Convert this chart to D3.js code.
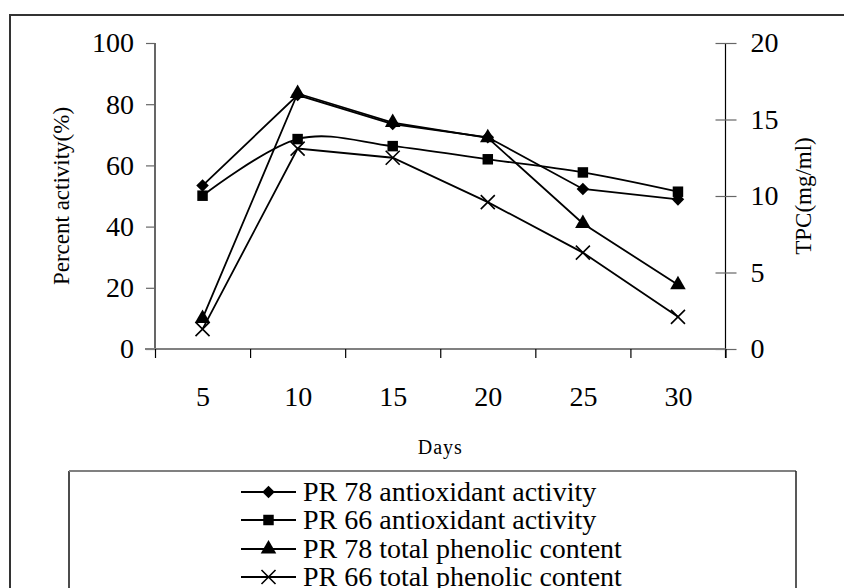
<!DOCTYPE html>
<html><head><meta charset="utf-8">
<script src="https://cdn.jsdelivr.net/npm/d3@7"></script>
<style>
html,body{margin:0;padding:0;background:#fff;}
svg{display:block;}
svg text{font-family:"Liberation Serif","Times New Roman",serif;}
</style></head>
<body><svg id="c" width="844" height="588"></svg>
<script>
const days = ["5","10","15","20","25","30"];
const pr78Antioxidant = [53.4, 83.0, 73.5, 69.2, 52.3, 48.9];
const pr66Antioxidant = [50.1, 68.6, 66.3, 62.0, 57.7, 51.4];
const pr78Phenolic = [2.0, 16.7, 14.8, 13.8, 8.2, 4.2];
const pr66Phenolic = [1.3, 13.1, 12.5, 9.6, 6.3, 2.1];
const leftTicks = [0, 20, 40, 60, 80, 100];
const rightTicks = [0, 5, 10, 15, 20];
const legendLabels = ["PR 78 antioxidant activity","PR 66 antioxidant activity","PR 78 total phenolic content","PR 66 total phenolic content"];

const SERIF = "Liberation Serif, Times New Roman, serif";
const svg = d3.select("#c");
const L = 155, R = 725.5, T = 43, B = 349;
const x = d3.scalePoint().domain(days).range([L, R]).padding(0.5);
const xb = d3.scaleLinear().domain([0, days.length]).range([L, R]);
const yL = d3.scaleLinear().domain([0, 100]).range([B, T]);
const yR = d3.scaleLinear().domain([0, 20]).range([B, T]);

// outer frame
svg.append("path").attr("d", `M10,600 L10,15 L860,15`).attr("fill","none").attr("stroke","#333").attr("stroke-width",2);

// legend box
svg.append("path").attr("d", `M69,600 L69,471`).attr("fill","none").attr("stroke","#111").attr("stroke-width",1.5);
svg.append("path").attr("d", `M69,471 L796,471`).attr("fill","none").attr("stroke","#808080").attr("stroke-width",2);
svg.append("path").attr("d", `M796,471 L796,600`).attr("fill","none").attr("stroke","#222").attr("stroke-width",1.5);

// left axis
const gL = svg.append("g").attr("transform", `translate(${L},0)`)
  .call(d3.axisLeft(yL).tickValues(leftTicks).tickSize(9).tickPadding(12));
gL.attr("font-family", SERIF);
gL.select(".domain").attr("stroke","#000").attr("stroke-width",1.2).attr("d", `M0,${T}V${B}`);
gL.selectAll(".tick line").attr("stroke","#666").attr("stroke-width",1.2);
gL.selectAll(".tick text").attr("font-size",28).attr("fill","#000");

// right axis
const gR = svg.append("g").attr("transform", `translate(${R},0)`)
  .call(d3.axisRight(yR).tickValues(rightTicks).tickSize(11).tickPadding(14));
gR.attr("font-family", SERIF);
gR.select(".domain").attr("stroke","#000").attr("stroke-width",1.2).attr("d", `M0,${T}V${B+9}`);
gR.selectAll(".tick line").attr("stroke","#666").attr("stroke-width",1.2).attr("x1",-10);
gR.selectAll(".tick text").attr("font-size",28).attr("fill","#000");

// x axis ticks at category boundaries
const gX = svg.append("g").attr("transform", `translate(0,${B})`)
  .call(d3.axisBottom(xb).ticks(days.length).tickSize(9).tickFormat(""));
gX.select(".domain").attr("stroke","#808080").attr("stroke-width",2.2).attr("d", `M${L-10},0H${R}`);
gX.selectAll(".tick line").attr("stroke","#000").attr("stroke-width",1.2);
// x labels
const gXL = svg.append("g").attr("transform", `translate(0,${B})`)
  .call(d3.axisBottom(x).tickSize(0).tickPadding(37));
gXL.attr("font-family", SERIF);
gXL.select(".domain").remove();
gXL.selectAll(".tick text").attr("font-size",28).attr("fill","#000");

// axis titles
svg.append("text").attr("transform", `translate(69,${(T+B)/2}) rotate(-90)`).attr("text-anchor","middle")
  .attr("font-size",23).text("Percent activity(%)");
svg.append("text").attr("transform", `translate(811,${(T+B)/2}) rotate(-90)`).attr("text-anchor","middle")
  .attr("font-size",23).text("TPC(mg/ml)");
svg.append("text").attr("x",(L+R)/2).attr("y",454).attr("text-anchor","middle")
  .attr("font-size",20).attr("letter-spacing",1).text("Days");

// series
const series = [
  {vals: pr78Antioxidant, y: yL, curve: d3.curveLinear, m: "diamond"},
  {vals: pr66Antioxidant, y: yL, curve: d3.curveCatmullRom.alpha(0), m: "square"},
  {vals: pr78Phenolic, y: yR, curve: d3.curveLinear, m: "triangle"},
  {vals: pr66Phenolic, y: yR, curve: d3.curveLinear, m: "cross"}
];
const symbolPath = {
  diamond: d3.symbol(d3.symbolDiamond2 || d3.symbolDiamond, 100)(),
  square: d3.symbol(d3.symbolSquare, 110)(),
  triangle: d3.symbol(d3.symbolTriangle, 105)(),
  cross: d3.symbol(d3.symbolX, 130)()
};
function drawMarker(g, m, cx, cy) {
  const p = g.append("path").attr("transform", `translate(${cx},${cy})`).attr("d", symbolPath[m]);
  if (m === "cross") p.attr("fill","none").attr("stroke","#000").attr("stroke-width",1.6);
  else p.attr("fill","#000").attr("stroke","none");
}
const gS = svg.append("g");
series.forEach(s => {
  const line = d3.line().x((d,i) => x(days[i])).y(d => s.y(d)).curve(s.curve);
  gS.append("path").attr("d", line(s.vals)).attr("fill","none").attr("stroke","#000").attr("stroke-width",1.8);
});
series.forEach(s => {
  s.vals.forEach((v,i) => drawMarker(gS, s.m, x(days[i]), s.y(v)));
});

// legend
const legY = [492, 520, 549, 577];
legendLabels.forEach((lab, i) => {
  const g = svg.append("g");
  g.append("line").attr("x1",241).attr("x2",296).attr("y1",legY[i]).attr("y2",legY[i]).attr("stroke","#000").attr("stroke-width",1.8);
  drawMarker(g, series[i].m, 268.5, legY[i]);
  g.append("text").attr("x",303).attr("y",legY[i]+9).attr("font-size",28).text(lab);
});
</script></body></html>
